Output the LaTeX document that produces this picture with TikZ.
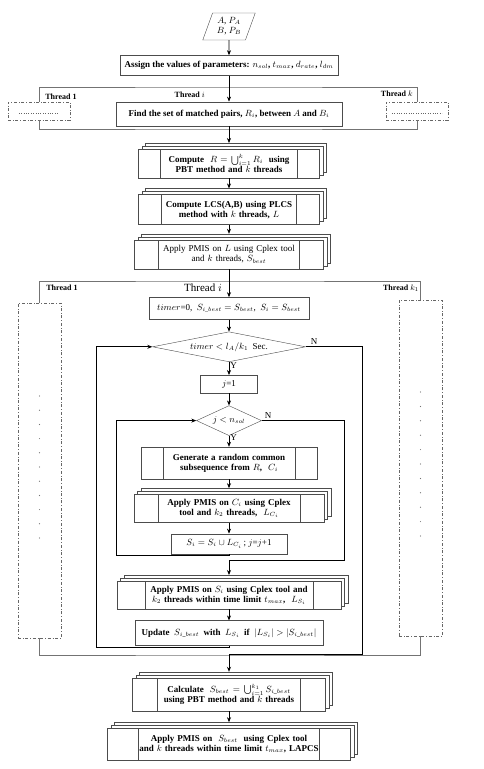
\documentclass[tikz,border=0pt]{standalone}
\usepackage{amsmath}
\usepackage{fontspec}
\setmainfont{Liberation Serif}
\usepackage{tikz}
\usetikzlibrary{shapes.geometric, arrows.meta, positioning, shadows}

\begin{document}
\begin{tikzpicture}[
  x=1pt, y=-1pt,
  node distance=12pt,
  box/.style={rectangle, draw=black!70, fill=white, align=center, inner sep=2pt,
              font=\fontsize{9}{10}\selectfont\bfseries},
  plain/.style={font=\fontsize{9}{10}\selectfont},
  subbox/.style={box, path picture={
      \draw[black!70] ([xshift=#1]path picture bounding box.north west) -- ([xshift=#1]path picture bounding box.south west)
                      ([xshift=-#1]path picture bounding box.north east) -- ([xshift=-#1]path picture bounding box.south east);}},
  multibox/.style={subbox=#1,
      copy shadow={shadow xshift=7pt, shadow yshift=6pt, draw=black!70},
      copy shadow={shadow xshift=3.5pt, shadow yshift=3pt, draw=black!70}},
  test/.style={diamond, draw=black!70, fill=white, inner sep=0pt, font=\fontsize{9}{10}\selectfont},
  io/.style={trapezium, trapezium left angle=70, trapezium right angle=110, draw=black!70,
             align=center, inner xsep=1pt, inner ysep=2pt, font=\fontsize{9}{10}\selectfont},
  idle/.style={rectangle, draw=black!60, dash dot, inner sep=0pt},
  thread/.style={draw=black!55},
  arrow/.style={-{Stealth[length=5pt, width=4pt]}, semithick},
  back/.style={arrow, thick},
  lbl/.style={font=\fontsize{8}{9}\selectfont\bfseries, inner sep=1pt},
  yn/.style={font=\fontsize{9}{10}\selectfont, inner sep=1pt}
]
\useasboundingbox (0,0) rectangle (484,769);

% main column
\node[io, minimum height=27pt] (input) at (229,26.5) {$A$, $P_A$\\ $B$, $P_B$};
\node[box, minimum width=218pt, minimum height=20pt, below=15pt of input] (assign)
  {Assign the values of parameters: $n_{sol}$, $t_{max}$, $d_{rate}$, $l_{dm}$};
\node[box, minimum width=226pt, minimum height=24pt, below=26pt of assign] (match)
  {Find the set of matched pairs, $R_i$, between $A$ and $B_i$};
\node[multibox=22pt, minimum width=181pt, minimum height=29pt, text width=132pt, below=23pt of match] (union)
  {Compute \ $R=\bigcup_{i=1}^{k} R_i$ \ using\\ PBT method and $k$ threads};
\node[multibox=23pt, minimum width=181pt, minimum height=30pt, text width=132pt, below=16pt of union] (lcs)
  {Compute LCS(A,B) using PLCS\\ method with $k$ threads, $L$};
\node[multibox=24pt, plain, minimum width=189pt, minimum height=29pt, text width=138pt, below=15pt of lcs] (pmis)
  {Apply PMIS on $L$ using Cplex tool\\ and $k$ threads, $S_{best}$};
\node[box, plain, minimum width=160pt, minimum height=22pt, below=28pt of pmis] (init)
  {$timer$=0, \ $S_{i\_best}=S_{best}$, \ $S_i=S_{best}$};
\node[test, aspect=5, minimum width=153pt, minimum height=30pt, below=12pt of init] (timer)
  {$timer<l_A/k_1$ \ Sec.};
\node[box, plain, minimum width=57pt, minimum height=18pt, below=13pt of timer] (jinit) {$j$=1};
\node[test, aspect=2.2, minimum width=65pt, minimum height=30pt, below=12pt of jinit] (jtest) {$j<n_{sol}$};
\node[subbox=22pt, minimum width=176pt, minimum height=32pt, text width=128pt, below=11pt of jtest] (gen)
  {Generate a random common\\ subsequence from $R$, \ $C_i$};
\node[multibox=24pt, minimum width=190pt, minimum height=28pt, text width=140pt, below=15pt of gen] (pmisc)
  {Apply PMIS on $C_i$ using Cplex\\ tool and $k_2$ threads, \ $L_{C_i}$};
\node[box, plain, minimum width=116pt, minimum height=20pt, below=11pt of pmisc] (addsol)
  {$S_i=S_i\cup L_{C_i}$\,; $j$=$j$+1};
\node[multibox=28pt, minimum width=224pt, minimum height=28pt, text width=166pt, below=27pt of addsol] (pmiss)
  {Apply PMIS on $S_i$ using Cplex tool and\\ $k_2$ threads within time limit $t_{max}$, \ $L_{S_i}$};
\node[box, inner xsep=1pt, minimum width=188pt, minimum height=25pt, below=11pt of pmiss] (update)
  {Update \ $S_{i\_best}$ \ with \ $L_{S_i}$ \ if \ $|L_{S_i}|>|S_{i\_best}|$};
\node[multibox=25pt, minimum width=193pt, minimum height=33pt, text width=140pt, below=32pt of update] (merge)
  {Calculate \ $S_{best}=\bigcup_{i=1}^{k_1} S_{i\_best}$\\ using PBT method and $k$ threads};
\node[multibox=31pt, minimum width=243pt, minimum height=32pt, text width=180pt, below=17pt of merge] (final)
  {Apply PMIS on \ $S_{best}$ \ using Cplex tool\\ and $k$ threads within time limit $t_{max}$, LAPCS};

% other threads
\node[idle, minimum width=62pt, minimum height=18pt] (thrA1) at (39,111) {};
\node[idle, minimum width=62pt, minimum height=18pt] (thrAk) at (417,111) {};
\node[idle, minimum width=43pt, minimum height=335pt] (thrB1) at (39.5,470.5) {};
\node[idle, minimum width=43pt, minimum height=336pt] (thrBk) at (420.5,468) {};
\draw[black!60, dotted] ([xshift=11pt, yshift=-2pt]thrA1.west) -- ([xshift=-11pt, yshift=-2pt]thrA1.east);
\draw[black!60, dotted] ([xshift=6pt, yshift=-2pt]thrAk.west) -- ([xshift=-6pt, yshift=-2pt]thrAk.east);
\foreach \k in {0,...,10} {
  \fill[black!55] (thrB1.center) ++(0,{-74.5+14.2*\k}) circle (0.6pt);
  \fill[black!55] (thrBk.center) ++(0,{-76+14.4*\k}) circle (0.6pt);
}

\coordinate (forkA) at (229,87);
\coordinate (joinA) at (229,129);
\coordinate (forkB) at (230,281);
\coordinate (joinB) at (230,655);
\draw[thread] (thrA1.north) |- (forkA) -| (thrAk.north);
\draw[thread] (thrA1.south) |- (joinA) -| (thrAk.south);
\draw[thread] (thrB1.north) |- (forkB) -| (thrBk.north);
\draw[thread] (thrB1.south) |- (joinB) -| (thrBk.south);

\node[lbl] (labA1) at (61,97) {Thread 1};
\node[lbl, anchor=east] (labAi) at (206,95) {Thread $i$};
\node[lbl, anchor=east] (labAk) at (414,94) {Thread $k$};
\node[lbl] (labB1) at (62,288) {Thread 1};
\node[font=\fontsize{11}{12}\selectfont, inner sep=1pt] (labBi) at (203,288) {Thread $i$};
\node[lbl] (labBk) at (401,288) {Thread $k_1$};

% flow
\draw[arrow] (input) -- (assign);
\draw[arrow] (assign) -- (match);
\draw[arrow, shorten >=6pt] (match) -- (union);
\draw[arrow, shorten >=6pt] (union) -- (lcs);
\draw[arrow, shorten >=6pt] (lcs) -- (pmis);
\draw[arrow] (pmis) -- (init);
\draw[arrow] (init) -- (timer);
\draw[arrow] (timer) -- node[yn, pos=0.25, right] (tyes) {Y} (jinit);
\draw[arrow] (jinit) -- (jtest);
\draw[arrow] (jtest) -- node[yn, pos=0.2, right] (jyes) {Y} (gen);
\draw[arrow, shorten >=6pt] (gen) -- (pmisc);
\draw[arrow] (pmisc) -- (addsol);
\draw[arrow] (pmiss) -- (update);
\draw[arrow, shorten >=6pt] (merge) -- (final);

% loops
\coordinate (innerL) at (116,555);
\coordinate (innerR) at (344,560);
\coordinate (outerL) at (96,647);
\coordinate (outerR) at (362,654);
\draw[back] (addsol.south) |- (innerL) |- (jtest.west);
\draw[back, shorten >=6pt] (jtest.east) -| (innerR) -| (pmiss.north);
\draw[back] (update.south) |- (outerL) |- (timer.west);
\draw[back, shorten >=6pt] (timer.east) -| (outerR) -| (merge.north);
\node[yn, above right=1pt and 4pt of timer.east] (tno) {N};
\node[yn, above right=1pt and 2pt of jtest.east] (jno) {N};
\end{tikzpicture}
\end{document}
